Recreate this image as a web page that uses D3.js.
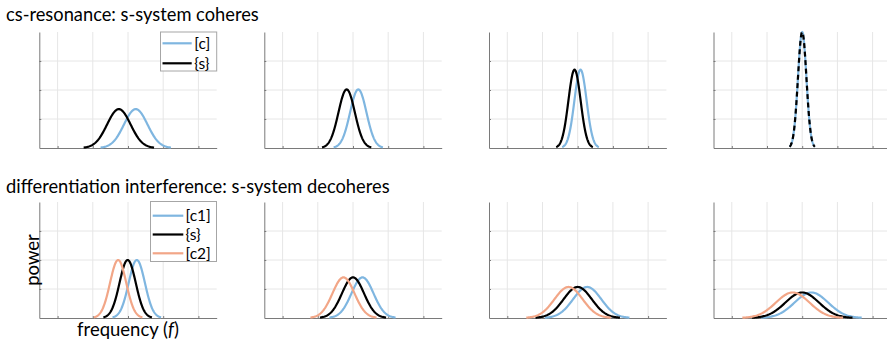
<!DOCTYPE html>
<html>
<head>
<meta charset="utf-8">
<script src="https://cdn.jsdelivr.net/npm/d3@7"></script>
<style>
html,body{margin:0;padding:0;background:#fff;}
svg{display:block;font-family:Lato,"Open Sans",sans-serif;}
</style>
</head>
<body>
<svg id="chart" width="887" height="344"></svg>
<script>
// ---- data ----
const rowTitles = ["cs-resonance: s-system coheres", "differentiation interference: s-system decoheres"];
const xTicks = [-2, -1, 0, 1, 2];
const yTicks = [0, 1, 2, 3, 4];

// top row: cs-resonance
const topCenterC = [0.22, 0.15, 0.08, 0.0];
const topCenterS = [-0.26, -0.18, -0.09, 0.0];
const topPeak = [1.34, 2.02, 2.70, 4.0];
const topHalfWidth = [1.0, 0.70, 0.52, 0.36];

// bottom row: differentiation interference
const botCenterC1 = [0.25, 0.27, 0.27, 0.26];
const botCenterS = [-0.01, 0.0, 0.0, 0.0];
const botCenterC2 = [-0.28, -0.27, -0.26, -0.27];
const botPeak = [2.0, 1.40, 1.07, 0.88];
const botHalfWidth = [0.69, 0.94, 1.20, 1.43];

const topLegend = ["[c]", "{s}"];
const botLegend = ["[c1]", "{s}", "[c2]"];

// ---- styles / layout ----
const BLUE = "#7fb6e0", BLACK = "#000", ORANGE = "#f2a687";
const panelLeft = [39.3, 264.3, 489, 713.5];
const panelW = 177.4;
const rowTop = [32, 202];
const panelH = 116;

const svg = d3.select("#chart");

function gaussPoints(c, peak, hw) {
  const sigma = hw / 3;
  return d3.range(0, 121).map(i => {
    const x = c - hw + (2 * hw) * i / 120;
    return [x, peak * Math.exp(-((x - c) ** 2) / (2 * sigma * sigma))];
  });
}

function panel(r, p) {
  const x = d3.scaleLinear().domain([-2.52, 2.52]).range([panelLeft[p], panelLeft[p] + panelW]);
  const y = d3.scaleLinear().domain([0, 4]).range([rowTop[r] + panelH, rowTop[r]]);
  const g = svg.append("g");
  // grid
  g.selectAll(".gx").data(xTicks).enter().append("line")
    .attr("x1", d => x(d)).attr("x2", d => x(d))
    .attr("y1", y(0)).attr("y2", y(4))
    .attr("stroke", "#e6e6e6").attr("stroke-width", 1);
  g.selectAll(".gy").data(yTicks.filter(d => d > 0 && d < 4)).enter().append("line")
    .attr("x1", x.range()[0]).attr("x2", x.range()[1])
    .attr("y1", d => y(d)).attr("y2", d => y(d))
    .attr("stroke", "#e6e6e6").attr("stroke-width", 1);
  // axes
  const ax = d3.axisBottom(x).tickValues(xTicks).tickSizeInner(-2).tickSizeOuter(0).tickFormat("");
  const ay = d3.axisLeft(y).tickValues(yTicks.filter(d => d > 0 && d < 4)).tickSizeInner(-2).tickSizeOuter(0).tickFormat("");
  const gx = g.append("g").attr("transform", `translate(0,${y(0)})`).call(ax);
  const gy = g.append("g").attr("transform", `translate(${x.range()[0]},0)`).call(ay);
  [gx, gy].forEach(a => {
    a.selectAll("path,line").attr("stroke", "#7a7a7a").attr("stroke-width", 1);
  });
  const line = d3.line().x(d => x(d[0])).y(d => y(d[1]));
  const curves = [];
  if (r === 0) {
    curves.push({pts: gaussPoints(topCenterC[p], topPeak[p], topHalfWidth[p]), color: BLUE, dash: null});
    curves.push({pts: gaussPoints(topCenterS[p], topPeak[p], topHalfWidth[p]), color: BLACK, dash: p === 3 ? "5,3.5" : null});
  } else {
    curves.push({pts: gaussPoints(botCenterC1[p], botPeak[p], botHalfWidth[p]), color: BLUE, dash: null});
    curves.push({pts: gaussPoints(botCenterS[p], botPeak[p], botHalfWidth[p]), color: BLACK, dash: null});
    curves.push({pts: gaussPoints(botCenterC2[p], botPeak[p], botHalfWidth[p]), color: ORANGE, dash: null});
  }
  curves.forEach(c => {
    g.append("path").attr("d", line(c.pts)).attr("fill", "none")
      .attr("stroke", c.color).attr("stroke-width", 2.2)
      .attr("stroke-dasharray", c.dash);
  });
  return {x, y};
}

for (let r = 0; r < 2; r++) for (let p = 0; p < 4; p++) panel(r, p);

// titles
svg.append("text").attr("x", 6).attr("y", 21).attr("font-size", 18.3).attr("fill", "#000").text(rowTitles[0]);
svg.append("text").attr("x", 6).attr("y", 193).attr("font-size", 18.3).attr("fill", "#000").text(rowTitles[1]);

// legends
function legend(x0, y0, w, h, labels, colors, rowY, lineX0, lineX1, textX) {
  const g = svg.append("g");
  g.append("rect").attr("x", x0).attr("y", y0).attr("width", w).attr("height", h)
    .attr("fill", "#fff").attr("stroke", "#a6a6a6").attr("stroke-width", 1);
  labels.forEach((l, i) => {
    g.append("line").attr("x1", lineX0).attr("x2", lineX1).attr("y1", rowY[i]).attr("y2", rowY[i])
      .attr("stroke", colors[i]).attr("stroke-width", 2.2);
    g.append("text").attr("x", textX).attr("y", rowY[i]).attr("dy", "0.35em")
      .attr("font-size", 15.5).attr("fill", "#000").text(l);
  });
}
legend(160.5, 32, 56.2, 39, topLegend, [BLUE, BLACK], [43.3, 63.3], 162.5, 191.7, 194.3);
legend(150.5, 201.5, 66, 60, botLegend, [BLUE, BLACK, ORANGE], [215.7, 234.5, 253.3], 152.7, 183.3, 185.5);

// axis labels
svg.append("text").attr("transform", "translate(38.5,260) rotate(-90)")
  .attr("text-anchor", "middle").attr("font-size", 18.5).attr("fill", "#000").text("power");
const fl = svg.append("text").attr("x", 128).attr("y", 336).attr("text-anchor", "middle")
  .attr("font-size", 18.5).attr("fill", "#000");
fl.append("tspan").text("frequency (");
fl.append("tspan").attr("font-style", "italic").text("f");
fl.append("tspan").text(")");
</script>
</body>
</html>
